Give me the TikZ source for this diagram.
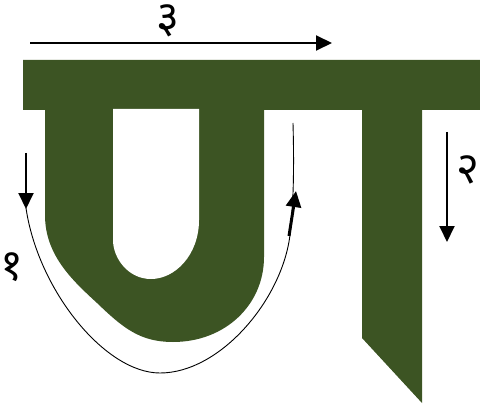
\documentclass[tikz,border=0pt]{standalone}
\usepackage{fontspec}
\newfontfamily\deva[Script=Devanagari]{Noto Sans}
\usetikzlibrary{arrows.meta}
\definecolor{leaf}{RGB}{60,84,35}
\tikzset{
  letter/.style={fill=leaf, draw=none},
  hole/.style={fill=white, draw=none},
  strokearrow/.style={line width=2pt, -{Triangle[length=16pt,width=15pt]}},
  guide/.style={line width=0.9pt},
  num/.style={font=\deva\fontsize{44}{48}\selectfont, inner sep=0pt}
}
\begin{document}
\begin{tikzpicture}[x=1pt,y=-1pt]
\useasboundingbox (0,0) rectangle (480,412);
% letter shape
\fill[letter] (23,60) -- (480,60) -- (480,110) -- (422,110) -- (422,403) -- (362,338) -- (362,110)
  -- (264,110) -- (264,257) .. controls (264,305) and (225,342) .. (173,342)
  .. controls (140,342) and (123,328) .. (97,303)
  .. controls (72,280) and (45,255) .. (45,215) -- (45,110) -- (23,110) -- cycle;
\fill[hole] (113,109) -- (199,109) -- (199,220) .. controls (199,255) and (175,279) .. (151,279)
  .. controls (128,279) and (113,258) .. (113,240) -- cycle;
% stroke 3
\coordinate (a3s) at (30,43);
\coordinate (a3e) at (332,43);
\draw[strokearrow] (a3s) -- (a3e);
\node[num] (n3) at (168,21) {३};
% stroke 2
\coordinate (a2s) at (447,132);
\coordinate (a2e) at (447,242);
\draw[strokearrow] (a2s) -- (a2e);
\node[num] (n2) at (468,170) {२};
% stroke 1
\coordinate (a1s) at (26,153);
\coordinate (a1e) at (26,209);
\draw[strokearrow] (a1s) -- (a1e);
\coordinate (c1) at (26,208);
\coordinate (cb) at (160,373);
\coordinate (cr) at (290,235);
\coordinate (ct) at (293,123);
\draw[guide] (c1) .. controls (38,290) and (105,373) .. (cb)
  .. controls (220,373) and (282,300) .. (cr)
  .. controls (294,200) and (294,160) .. (ct);
\coordinate (r1s) at (289,236);
\coordinate (r1e) at (296,191);
\draw[strokearrow, line width=3pt] (r1s) -- (r1e);
\node[num] (n1) at (12,267) {१};
\end{tikzpicture}
\end{document}
